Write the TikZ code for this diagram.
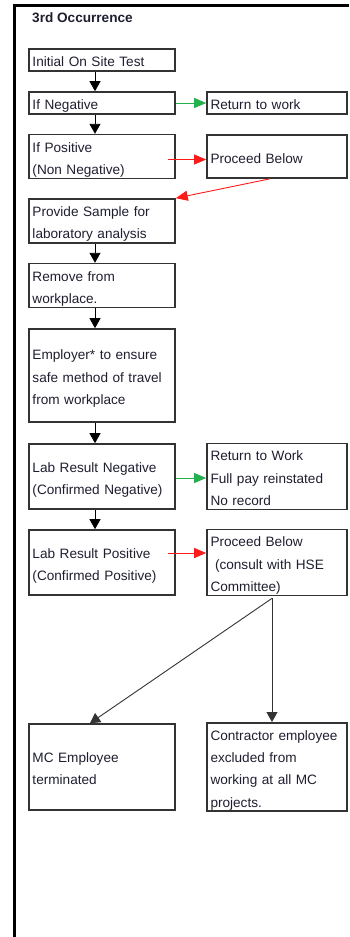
\documentclass[tikz,border=0pt]{standalone}
\usepackage{fontspec}
\setmainfont{Liberation Sans}
\usetikzlibrary{arrows.meta}
\definecolor{ink}{HTML}{1E1E30}
\definecolor{boxline}{HTML}{333333}
\definecolor{okgreen}{HTML}{22B14C}
\definecolor{alertred}{HTML}{FF1A1A}
\begin{document}
\begin{tikzpicture}[x=1bp,y=-1bp,
  every node/.style={font=\fontsize{13.6bp}{22.3bp}\selectfont, text=ink},
  box/.style={draw=boxline, line width=1.6bp, rectangle, inner xsep=3.5bp, inner ysep=0bp,
    align=left, anchor=center, struts={17.5bp}{4bp}},
  struts/.style 2 args={execute at begin node={\rule{0pt}{#1}}, execute at end node={\rule[-#2]{0pt}{#2}}},
  lbox/.style={box, minimum width=146bp, text width=139bp},
  rbox/.style={box, minimum width=140bp, text width=133bp},
  flow/.style={draw=black, line width=0.9bp, -{Triangle[length=10bp,width=11bp]}},
  goodpath/.style={draw=okgreen, line width=0.9bp, -{Triangle[length=12bp,width=10bp]}},
  badpath/.style={draw=alertred, line width=0.9bp, -{Triangle[length=12bp,width=10bp]}},
  split/.style={draw=boxline, line width=0.9bp, -{Triangle[length=10bp,width=11bp]}}
]
\useasboundingbox (0,0) rectangle (349,937);

% outer frame
\draw[line width=3bp] (14.5,937) -- (14.5,5.5) -- (349,5.5);

% heading
\node[anchor=base west, inner sep=0pt, font=\fontsize{13.6bp}{16bp}\selectfont\bfseries] (title) at (32,22) {3rd Occurrence};

% main column
\node[lbox, minimum height=22bp] (b1) at (102,60) {Initial On Site Test};
\node[lbox, minimum height=22bp] (b2) at (102,103) {If Negative};
\node[lbox, minimum height=43bp] (b3) at (102,156.5) {If Positive\\(Non Negative)};
\node[lbox, minimum height=44bp] (b4) at (102,221) {Provide Sample for\\laboratory analysis};
\node[lbox, minimum height=43bp] (b5) at (102,285.5) {Remove from\\workplace.};
\node[lbox, minimum height=93bp] (b6) at (102,375.5) {Employer* to ensure\\safe method of travel\\from workplace};
\node[lbox, minimum height=65bp] (b7) at (102,476.5) {Lab Result Negative\\(Confirmed Negative)};
\node[lbox, minimum height=65bp] (b8) at (102,562.5) {Lab Result Positive\\(Confirmed Positive)};
\node[lbox, minimum height=86bp] (b9) at (102,767) {MC Employee\\terminated};

% outcome column
\node[rbox, minimum height=22bp] (r1) at (277,103) {Return to work};
\node[rbox, minimum height=43bp] (r2) at (277,156.5) {Proceed Below};
\node[rbox, minimum height=65bp] (r3) at (277,476.5) {Return to Work\\Full pay reinstated\\No record};
\node[rbox, minimum height=65bp] (r4) at (277,562.5) {Proceed Below\\\ (consult with HSE\\Committee)};
\node[rbox, minimum height=86bp, struts={15bp}{3bp}] (r5) at (277,767) {Contractor employee\\excluded from\\working at all MC\\projects.};

% main flow, offset left of the box centres
\foreach \a/\b in {b1/b2, b2/b3, b4/b5, b5/b6, b6/b7, b7/b8}
  \draw[flow] ([xshift=-7bp]\a.south) -- ([xshift=-7bp]\b.north);

% side branches
\draw[goodpath] (b2.east) -- (r1.west);
\draw[badpath] ([shift={(-8bp,-3bp)}]b3.east) -- ([yshift=-3bp]r2.west);
\draw[badpath] ([xshift=-7bp]r2.south) -- (b4.north east);
\draw[goodpath] ([yshift=-1.5bp]b7.east) -- ([yshift=-1.5bp]r3.west);
\draw[badpath] ([shift={(-8bp,9.5bp)}]b8.east) -- ([yshift=9.5bp]r4.west);

% final split
\coordinate (fork) at ([shift={(-5bp,-2bp)}]r4.south);
\draw[split] (fork) -- ([xshift=-12bp]b9.north);
\draw[split] (fork) -- (fork |- r5.north);
\end{tikzpicture}
\end{document}
